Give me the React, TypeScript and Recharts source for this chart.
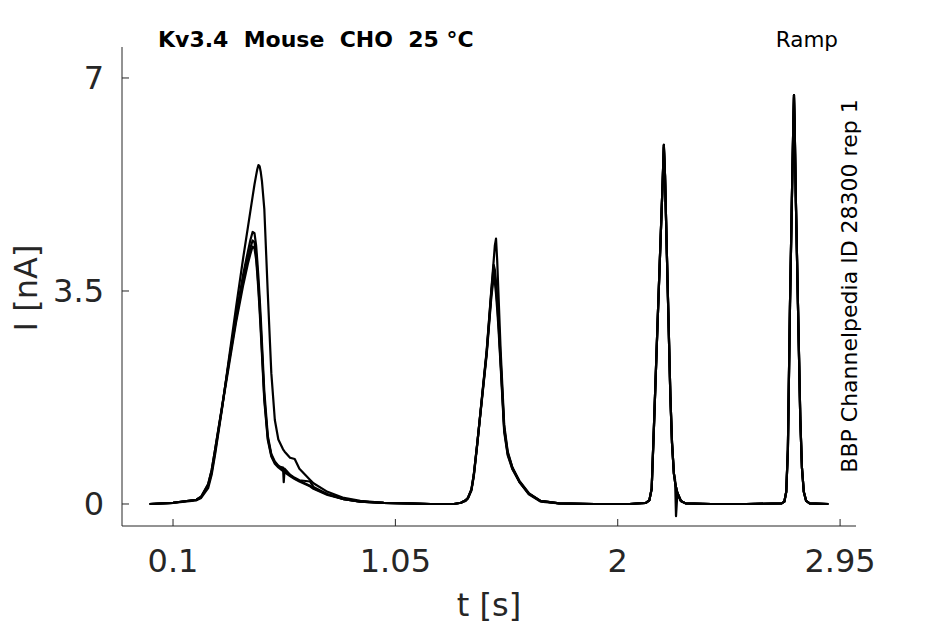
import { Line, LineChart, XAxis, YAxis } from 'recharts';

// sample times [s], first part (ramp 1 and 2)
const timesEarly = [
  0, 0.1, 0.2, 0.22, 0.25, 0.265, 0.28, 0.31, 0.34, 0.37,
  0.4, 0.42, 0.43, 0.44, 0.448, 0.455, 0.46, 0.465, 0.47, 0.475,
  0.48, 0.49, 0.505, 0.52, 0.535, 0.55, 0.57, 0.573, 0.577, 0.6,
  0.62, 0.64, 0.685, 0.7, 0.76, 0.83, 0.9, 1.0, 1.1, 1.2,
  1.3, 1.33, 1.35, 1.36, 1.375, 1.385, 1.4, 1.42, 1.44, 1.46,
  1.47, 1.475, 1.48, 1.485, 1.49, 1.5, 1.515, 1.53, 1.55, 1.58,
  1.62, 1.67, 1.75, 1.9
];

// sample times [s], second part (ramp 3 and 4)
const timesLate = [
  2.05, 2.12, 2.135, 2.145, 2.155, 2.17, 2.185, 2.192, 2.197, 2.202,
  2.21, 2.225, 2.232, 2.24, 2.245, 2.249, 2.255, 2.27, 2.29, 2.4,
  2.55, 2.7, 2.712, 2.72, 2.727, 2.736, 2.745, 2.75, 2.753, 2.756,
  2.761, 2.77, 2.78, 2.787, 2.795, 2.805, 2.82, 2.9
];

// current [nA], early part, per sweep
const earlyA = [
  0, 0.02, 0.06, 0.1, 0.26, 0.48, 0.82, 1.58, 2.42, 3.25,
  4.05, 4.55, 4.8, 5.05, 5.25, 5.4, 5.5, 5.57, 5.55, 5.45,
  5.3, 4.85, 3.45, 2.15, 1.38, 1.06, 0.9, 0.88, 0.86, 0.76,
  0.74, 0.58, 0.4, 0.34, 0.2, 0.1, 0.05, 0.02, 0.01, 0,
  0, 0.02, 0.05, 0.09, 0.22, 0.45, 0.98, 1.76, 2.52, 3.52,
  4.0, 4.25, 4.36, 4.0, 3.5, 2.5, 1.3, 0.86, 0.6, 0.36,
  0.16, 0.04, 0.01, 0
];

const earlyB = [
  0, 0.02, 0.07, 0.11, 0.3, 0.52, 0.86, 1.6, 2.38, 3.12,
  3.78, 4.15, 4.33, 4.47, 4.45, 4.25, 4.0, 3.72, 3.4, 3.05,
  2.65, 1.85, 1.12, 0.82, 0.7, 0.63, 0.56, 0.55, 0.54, 0.47,
  0.42, 0.38, 0.3, 0.26, 0.16, 0.08, 0.04, 0.02, 0.01, 0,
  0, 0.02, 0.06, 0.1, 0.24, 0.48, 1.0, 1.75, 2.5, 3.5,
  3.93, 3.85, 3.65, 3.4, 3.1, 2.35, 1.25, 0.84, 0.6, 0.38,
  0.18, 0.05, 0.01, 0
];

const earlyC = [
  0, 0.02, 0.07, 0.12, 0.32, 0.55, 0.9, 1.62, 2.35, 3.05,
  3.68, 4.03, 4.2, 4.33, 4.3, 4.1, 3.85, 3.57, 3.25, 2.9,
  2.52, 1.75, 1.08, 0.8, 0.68, 0.62, 0.6, 0.36, 0.58, 0.48,
  0.43, 0.39, 0.37, 0.28, 0.16, 0.08, 0.04, 0.02, 0.01, 0,
  0, 0.02, 0.06, 0.1, 0.24, 0.48, 1.0, 1.74, 2.48, 3.45,
  3.83, 3.75, 3.55, 3.3, 3.0, 2.3, 1.22, 0.82, 0.58, 0.37,
  0.17, 0.05, 0.01, 0
];

const earlyD = [
  0, 0.02, 0.07, 0.12, 0.33, 0.56, 0.9, 1.6, 2.3, 3.0,
  3.6, 3.95, 4.1, 4.23, 4.2, 4.02, 3.78, 3.5, 3.18, 2.82,
  2.45, 1.7, 1.05, 0.78, 0.66, 0.6, 0.54, 0.53, 0.52, 0.46,
  0.41, 0.37, 0.29, 0.25, 0.15, 0.08, 0.04, 0.02, 0.01, 0,
  0, 0.02, 0.06, 0.1, 0.24, 0.48, 1.0, 1.72, 2.45, 3.4,
  3.73, 3.65, 3.45, 3.2, 2.92, 2.25, 1.18, 0.8, 0.57, 0.36,
  0.17, 0.05, 0.01, 0
];

// current [nA], late part: sweeps overlap here
const lateCommon = [
  0, 0.02, 0.06, 0.25, 1.3, 2.95, 4.55, 5.3, 5.9, 5.4,
  4.1, 1.76, 1.0, 0.5, 0.36, 0.28, 0.18, 0.05, 0.01, 0,
  0, 0.01, 0.04, 0.2, 0.9, 3.28, 5.2, 6.2, 6.72, 6.2,
  5.0, 3.28, 1.4, 0.6, 0.2, 0.05, 0.01, 0
];

// same, with the capacitive glitch after ramp 3
const lateGlitch = [
  0, 0.02, 0.06, 0.25, 1.3, 2.95, 4.55, 5.3, 5.86, 5.4,
  4.1, 1.76, 1.0, 0.5, 0.4, -0.2, 0.18, 0.05, 0.01, 0,
  0, 0.01, 0.04, 0.2, 0.9, 3.28, 5.2, 6.2, 6.68, 6.2,
  5.0, 3.28, 1.4, 0.6, 0.2, 0.05, 0.01, 0
];

const sweepKeys = ['a', 'b', 'c', 'd'];
const sweeps = [
  [...earlyA, ...lateCommon],
  [...earlyB, ...lateCommon],
  [...earlyC, ...lateGlitch],
  [...earlyD, ...lateCommon]
];
const times = [...timesEarly, ...timesLate];

const xTicks = [0.1, 1.05, 2, 2.95];
const yTicks = [0, 3.5, 7];

const data = times.map((t, i) => {
  const row: Record<string, number> = { t };
  sweeps.forEach((s, k) => {
    row[sweepKeys[k]] = s[i];
  });
  return row;
});

const FONT = '"DejaVu Sans", sans-serif';
const AXIS = '#262626';

const XTick = ({ x, y, payload }: any) => (
  <g>
    <line x1={x} y1={y} x2={x} y2={y - 7} stroke={AXIS} />
    <text x={x} y={y + 46} textAnchor="middle" fontSize={32} fill={AXIS} fontFamily={FONT}>
      {payload.value}
    </text>
  </g>
);

const YTick = ({ x, y, payload }: any) => (
  <g>
    <line x1={x} y1={y} x2={x + 7} y2={y} stroke={AXIS} />
    <text x={x - 18} y={y + 11.5} textAnchor="end" fontSize={32} fill={AXIS} fontFamily={FONT}>
      {payload.value}
    </text>
  </g>
);

export default function App() {
  return (
    <div style={{ position: 'absolute', left: 0, top: 0, width: 945, height: 624, background: '#fff' }}>
      <LineChart width={945} height={624} data={data} margin={{ top: 47, right: 89, bottom: 0, left: 0 }}>
        <XAxis
          dataKey="t"
          type="number"
          domain={[-0.118, 3.018]}
          ticks={xTicks}
          interval={0}
          height={98}
          tickSize={0}
          tickMargin={0}
          tickLine={false}
          tick={<XTick />}
          axisLine={{ stroke: AXIS }}
        />
        <YAxis
          type="number"
          domain={[-0.3615, 7.509]}
          ticks={yTicks}
          interval={0}
          width={122}
          tickSize={0}
          tickMargin={0}
          tickLine={false}
          tick={<YTick />}
          axisLine={{ stroke: AXIS }}
        />
        {sweepKeys.map((k) => (
          <Line
            key={k}
            dataKey={k}
            type="linear"
            stroke="#000"
            strokeWidth={2.2}
            strokeLinejoin="round"
            dot={false}
            activeDot={false}
            isAnimationActive={false}
          />
        ))}
      </LineChart>
      <svg
        width={945}
        height={624}
        style={{ position: 'absolute', left: 0, top: 0, pointerEvents: 'none' }}
        fontFamily={FONT}
      >
        <text x={158} y={47} fontSize={22} fontWeight="bold" fill="#000" style={{ whiteSpace: 'pre' }}>
          {'Kv3.4  Mouse  CHO  25 °C'}
        </text>
        <text x={838} y={47} fontSize={21.5} textAnchor="end" fill="#000">
          Ramp
        </text>
        <text
          x={857}
          y={286}
          fontSize={22}
          textAnchor="middle"
          fill="#000"
          transform="rotate(-90 857 286)"
        >
          BBP Channelpedia ID 28300 rep 1
        </text>
        <text x={489} y={616} fontSize={32} textAnchor="middle" fill={AXIS}>
          t [s]
        </text>
        <text x={37} y={288} fontSize={32} textAnchor="middle" fill={AXIS} transform="rotate(-90 37 288)">
          I [nA]
        </text>
      </svg>
    </div>
  );
}
